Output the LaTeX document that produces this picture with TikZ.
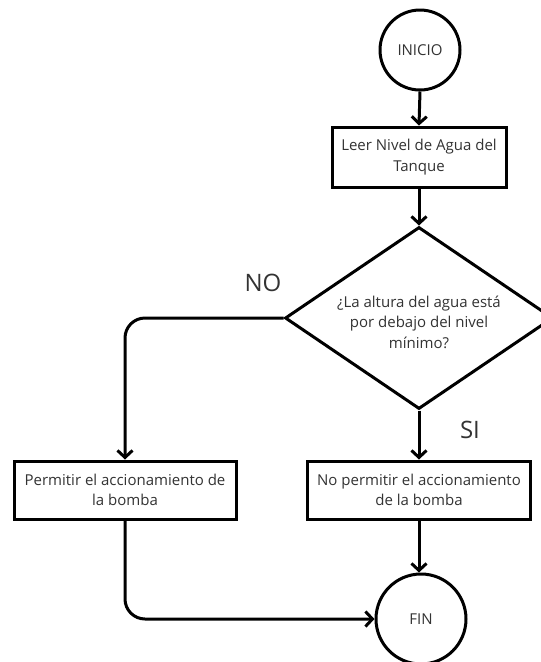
\documentclass[tikz,border=0pt]{standalone}
\usepackage{fontspec}
\setmainfont{Open Sans}
\usetikzlibrary{shapes.geometric,arrows.meta}
\definecolor{txt}{HTML}{333333}
\begin{document}
\begin{tikzpicture}[x=1pt,y=-1pt,
  every node/.style={text=txt,font=\fontsize{15}{20.5}\selectfont,align=center},
  conn/.style={line width=3pt,-{Straight Barb[length=7pt,width=15pt,line width=3pt]},rounded corners=20pt},
  term/.style={draw=black,line width=3pt,circle,inner sep=0pt},
  procbox/.style={draw=black,line width=3pt,rectangle,inner sep=0pt,minimum height=58pt},
  decision/.style={draw=black,line width=3pt,diamond,inner sep=0pt,minimum width=268pt,minimum height=182pt},
  lbl/.style={font=\fontsize{24}{28}\selectfont}]
\useasboundingbox (0,0) rectangle (541,662);
\fill[white] (0,0) rectangle (541,662);
\node[term,minimum size=80pt] (ini) at (420,50) {INICIO};
\node[procbox,minimum width=174pt,minimum height=60pt] (leer) at (419,157) {Leer Nivel de Agua del\\Tanque};
\node[decision] (dec) at (419,318) {};
\node at (419,322) {¿La altura del agua está\\por debajo del nivel\\mínimo?};
\node[procbox,minimum width=222pt] (perm) at (125,490) {Permitir el accionamiento de\\la bomba};
\node[procbox,minimum width=223pt] (noperm) at (419,490) {No permitir el accionamiento\\de la bomba};
\node[term,minimum size=90pt] (fin) at (421,619) {FIN};
\node[lbl] (no) at (263,283) {NO};
\node[lbl] (si) at (470,430) {SI};
\draw[conn] (ini.south) -- (leer.north);
\draw[conn] (leer.south) -- (dec.north);
\draw[conn] (dec.west) -| (perm.north);
\draw[conn] (dec.south) -- (noperm.north);
\draw[conn] (noperm.south) -- (noperm.south |- fin.north);
\draw[conn] (perm.south) |- (fin.west);
\end{tikzpicture}
\end{document}
